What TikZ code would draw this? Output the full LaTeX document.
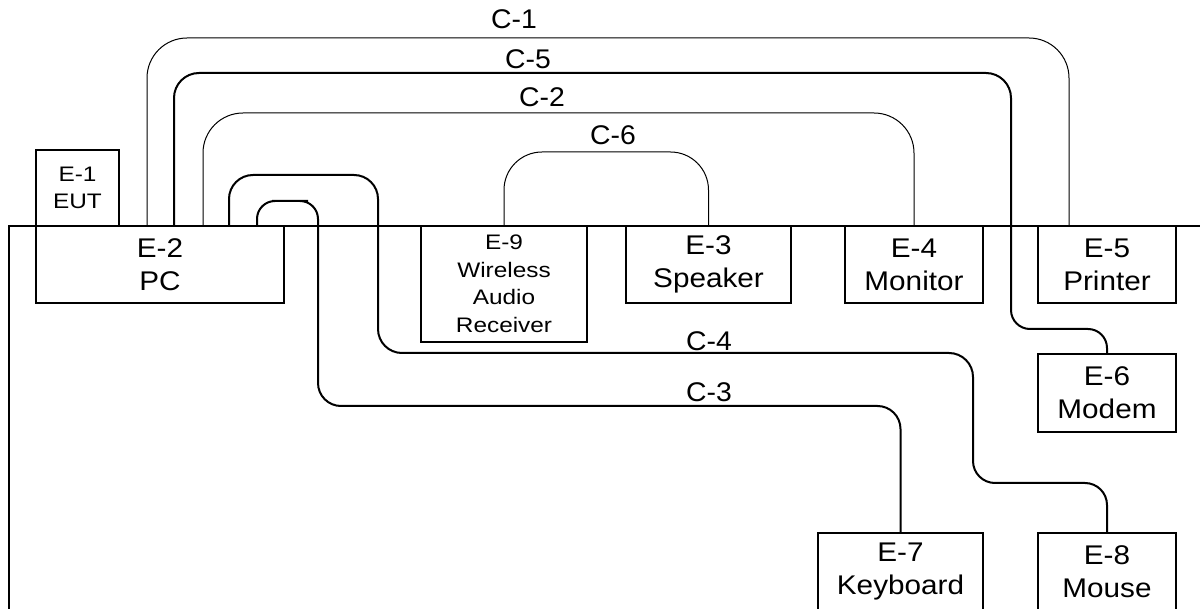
\documentclass[tikz,border=0pt]{standalone}
\usepackage{fontspec}
\setmainfont[FakeStretch=1.05]{Liberation Sans}
\newfontfamily\bigfam[FakeStretch=1.1]{Liberation Sans}
\newfontfamily\smallfam[FakeStretch=1.16]{Liberation Sans}
\begin{document}
\begin{tikzpicture}[x=1pt,y=-1pt,
  equip/.style={draw,line width=2pt,rectangle,inner sep=0pt,align=center,font=\bigfam\fontsize{27}{33}\selectfont},
  smallequip/.style={equip,font=\smallfam\fontsize{21}{27.5}\selectfont},
  thincable/.style={line width=1pt},
  thickcable/.style={line width=2pt},
  clabel/.style={inner sep=0pt,font=\fontsize{27}{33}\selectfont}]
\useasboundingbox (0,0) rectangle (1200,609);
% table edge
\draw[line width=2pt] (9,620) -- (9,226) -- (1210,226);
% equipment
\node[smallequip,minimum width=83pt,minimum height=76pt] (E1) at (77.5,188) {E-1\\EUT};
\node[equip,minimum width=248pt,minimum height=77pt] (E2) at (160,264.5) {E-2\\PC};
\node[smallequip,minimum width=166pt,minimum height=116pt] (E9) at (504,284) {E-9\\Wireless\\Audio\\Receiver};
\node[equip,minimum width=165pt,minimum height=77pt] (E3) at (708.5,264.5) {E-3\\Speaker};
\node[equip,minimum width=138pt,minimum height=77pt] (E4) at (914,264.5) {E-4\\Monitor};
\node[equip,minimum width=138pt,minimum height=77pt] (E5) at (1107,264.5) {E-5\\Printer};
\node[equip,minimum width=138pt,minimum height=78pt] (E6) at (1107,393) {E-6\\Modem};
\node[equip,minimum width=165pt,minimum height=77pt] (E7) at (900.5,571.5) {E-7\\Keyboard};
\node[equip,minimum width=138pt,minimum height=77pt] (E8) at (1107,571.5) {E-8\\Mouse};
% cables
\draw[thincable,rounded corners=40pt] ([xshift=-13pt]E2.north) |- (600,38) -| ([xshift=-38pt]E5.north);
\draw[thickcable,rounded corners=25pt] ([xshift=14pt]E2.north) |- (600,73) -| (1011,200)
   [rounded corners=19pt] |- (1060,329) -| (E6.north);
\draw[thincable,rounded corners=40pt] ([xshift=43pt]E2.north) |- (600,113) -| (E4.north);
\draw[thincable,rounded corners=38pt] (E9.north) |- (600,152) -| (E3.north);
\draw[thickcable,rounded corners=24pt] ([xshift=69pt]E2.north) |- (300,175) -| (378,300)
   |- (700,353) -| (973,420) [rounded corners=22pt] |- (1050,483) -| (E8.north);
\draw[thickcable,rounded corners=18pt] ([xshift=97pt]E2.north) |- (290,201) -| (318,300)
   [rounded corners=23pt] |- (600,406) -| (E7.north);
% labels
\node[clabel] (L1) at (514,19.5) {C-1};
\node[clabel] (L5) at (528,59) {C-5};
\node[clabel] (L2) at (542,97) {C-2};
\node[clabel] (L6) at (613,135) {C-6};
\node[clabel] (L4) at (709,341) {C-4};
\node[clabel] (L3) at (709,392) {C-3};
\end{tikzpicture}
\end{document}
